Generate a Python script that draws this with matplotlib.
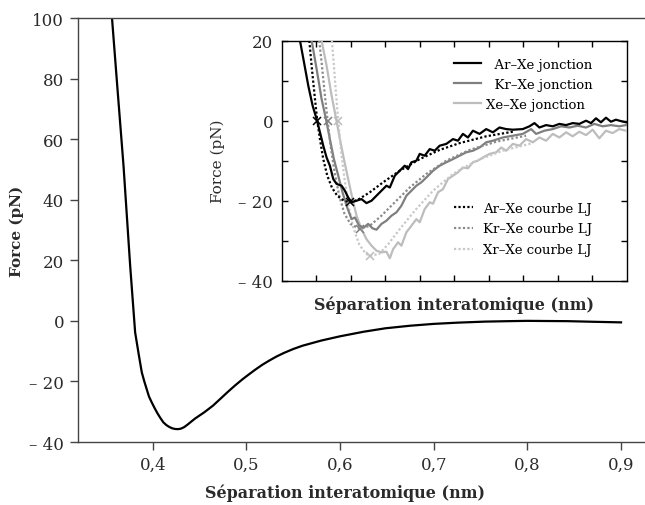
import matplotlib
matplotlib.use("Agg")
import matplotlib.pyplot as plt

plt.rcParams.update({
    "font.family": ["DejaVu Serif"],
    "font.size": 12,
})

# ---- main curve (force vs separation) ----
main_x = [0.3565, 0.362, 0.3688, 0.3759, 0.3812, 0.3850, 0.3883, 0.3910, 0.3940,
          0.3960, 0.3989, 0.4020, 0.4050, 0.4080, 0.4113, 0.4145, 0.4175, 0.4205,
          0.4237, 0.4270, 0.4300, 0.4335, 0.4370, 0.4410, 0.4450, 0.4550, 0.4643,
          0.4720, 0.4800, 0.4880, 0.4962, 0.5030, 0.5100, 0.5170, 0.5245, 0.5320,
          0.5400, 0.5500, 0.5600, 0.5800, 0.6000, 0.6250, 0.6485, 0.6750, 0.7000,
          0.7250, 0.7546, 0.7800, 0.8000, 0.8200, 0.8430, 0.8700, 0.9000]
main_y = [100, 78, 51.2, 18.2, -3.8, -11, -17, -20, -23,
          -25, -26.9, -28.8, -30.5, -32.0, -33.5, -34.4, -35.0, -35.45,
          -35.7, -35.75, -35.6, -35.1, -34.3, -33.3, -32.3, -30.2, -28,
          -25.8, -23.5, -21.3, -19.2, -17.6, -16, -14.5, -13.1, -11.8,
          -10.6, -9.3, -8.2, -6.5, -5.1, -3.6, -2.45, -1.6, -1.0,
          -0.6, -0.25, -0.1, 0, -0.05, -0.1, -0.3, -0.5]
main_xticks = [0.4, 0.5, 0.6, 0.7, 0.8, 0.9]
main_xticklabels = ["0,4", "0,5", "0,6", "0,7", "0,8", "0,9"]
main_yticks = [-40, -20, 0, 20, 40, 60, 80, 100]
main_yticklabels = ["\u2013 40", "\u2013 20", "0", "20", "40", "60", "80", "100"]

# ---- inset: simulated junctions ----
arxe_x = [0.3765, 0.3823, 0.3885, 0.3948, 0.4006, 0.4054, 0.4102, 0.4150, 0.4198,
          0.4247, 0.4295, 0.4367, 0.4415, 0.4463, 0.4512, 0.4584, 0.4656, 0.4728,
          0.4801, 0.4873, 0.4945, 0.5017, 0.5066, 0.5138, 0.5210, 0.5282, 0.5330,
          0.5379, 0.5451, 0.5499, 0.5571, 0.5644, 0.5716, 0.5788, 0.5884, 0.5981,
          0.6053, 0.6125, 0.6197, 0.6270, 0.6366, 0.6462, 0.6559, 0.6655, 0.6751,
          0.6848, 0.6992, 0.7089, 0.7161, 0.7233, 0.7329, 0.7426, 0.7522, 0.7619,
          0.7715, 0.7811, 0.7908, 0.7980, 0.8052, 0.8124, 0.8197, 0.8269, 0.8341,
          0.8413, 0.8486]
arxe_y = [20, 14.6, 8.75, 3.75, 0.4, -2.9, -6.25, -9.2, -11.25,
          -14.6, -15.8, -16.25, -17.5, -19.2, -20.4, -20, -19.6, -20.6,
          -20, -18.75, -17.5, -16.25, -16.7, -13.75, -12.5, -11.25, -12.1,
          -10.4, -10, -8.3, -8.75, -7.1, -7.5, -6.25, -5.8, -4.6,
          -5, -3.3, -4.2, -2.5, -3.3, -2.1, -2.9, -1.7, -2.1,
          -2.25, -2.1, -1.4, -0.6, -1.7, -1.1, -1.4, -0.8, -1.1,
          -0.6, -0.8, 0, -0.6, 0.6, -0.4, 0.75, -0.25, 0.25,
          -0.1, -0.4]

krxe_x = [0.3934, 0.4006, 0.4078, 0.4141, 0.4198, 0.4256, 0.4319, 0.4381, 0.4439,
          0.4512, 0.4560, 0.4622, 0.4690, 0.4752, 0.4815, 0.4873, 0.4945, 0.5017,
          0.5090, 0.5162, 0.5234, 0.5306, 0.5379, 0.5451, 0.5523, 0.5595, 0.5692,
          0.5788, 0.5884, 0.5981, 0.6077, 0.6173, 0.6270, 0.6366, 0.6462, 0.6559,
          0.6703, 0.6848, 0.6992, 0.7113, 0.7185, 0.7305, 0.7426, 0.7546, 0.7667,
          0.7787, 0.7908, 0.8028, 0.8148, 0.8269, 0.8389, 0.8486]
krxe_y = [20, 12.9, 5.4, 0.4, -4.6, -9.6, -13.75, -17.9, -21.25,
          -24.6, -24.2, -26.25, -26.7, -25.8, -26.9, -27.25, -25.8, -25,
          -23.75, -22.9, -21.25, -18.75, -17.5, -16.25, -15.4, -14.2, -12.5,
          -11.25, -10.4, -9.6, -8.75, -7.9, -7.5, -6.7, -5.4, -5,
          -4.2, -3.75, -3.3, -2.1, -3.3, -2.5, -2.1, -1.4, -1.7,
          -1.25, -1.7, -0.8, -1.4, -1.1, -1.4, -1.1]

xexe_x = [0.4078, 0.4150, 0.4223, 0.4285, 0.4343, 0.4401, 0.4463, 0.4526, 0.4584,
          0.4656, 0.4728, 0.4801, 0.4873, 0.4945, 0.5017, 0.5066, 0.5114, 0.5186,
          0.5234, 0.5306, 0.5379, 0.5451, 0.5499, 0.5571, 0.5644, 0.5692, 0.5764,
          0.5836, 0.5908, 0.5981, 0.6053, 0.6125, 0.6197, 0.6270, 0.6342, 0.6414,
          0.6511, 0.6607, 0.6679, 0.6751, 0.6848, 0.6944, 0.7040, 0.7137, 0.7233,
          0.7329, 0.7426, 0.7522, 0.7619, 0.7715, 0.7811, 0.7908, 0.8004, 0.8100,
          0.8197, 0.8293, 0.8389, 0.8486]
xexe_y = [20, 13.75, 6.25, 0.8, -4.6, -9.6, -14.6, -19.6, -23.75,
          -27.1, -29.6, -31.25, -32.5, -32.9, -32.75, -34.4, -32.1, -30.4,
          -31.25, -27.9, -26.25, -24.6, -25.4, -22.1, -20.4, -20.75, -17.9,
          -17.1, -14.6, -13.75, -12.9, -11.7, -11.9, -10.4, -10, -9.2,
          -8.3, -7.9, -6.7, -7.5, -5.8, -6.25, -4.6, -5.4, -4.2,
          -5, -3.3, -4.2, -2.9, -3.9, -2.75, -3.6, -2.25, -4.4,
          -2.5, -3.1, -2.1, -2.5]

# ---- inset: Lennard-Jones curves ----
lj_arxe_x = [0.3900, 0.3938, 0.3977, 0.4015, 0.4054, 0.4102, 0.4160, 0.4227, 0.4304,
             0.4401, 0.4490, 0.4600, 0.4776, 0.4969, 0.5210, 0.5499, 0.5788, 0.6077,
             0.6462, 0.6848]
lj_arxe_y = [20, 12.9, 6.25, 0.0, -4.6, -9.6, -13.75, -16.7, -18.75,
             -20, -20.4, -19.8, -17.9, -15.4, -12.5, -9.6, -7.3, -5.6,
             -3.9, -2.75]

lj_krxe_x = [0.4044, 0.4083, 0.4121, 0.4165, 0.4208, 0.4266, 0.4333, 0.4410, 0.4497,
             0.4632, 0.4776, 0.4945, 0.5138, 0.5355, 0.5595, 0.5884, 0.6222, 0.6607,
             0.7040]
lj_krxe_y = [20, 13.75, 7.1, 0.0, -6.25, -12.9, -18.75, -23.3, -25.8,
             -27.1, -26.25, -23.75, -20.4, -16.7, -13.3, -10, -7.3, -5.25,
             -3.75]

lj_xexe_x = [0.4227, 0.4256, 0.4285, 0.4319, 0.4362, 0.4410, 0.4468, 0.4536, 0.4622,
             0.4719, 0.4786, 0.4911, 0.5041, 0.5210, 0.5427, 0.5692, 0.5981, 0.6318,
             0.6703, 0.7137]
lj_xexe_y = [20, 13.75, 7.1, 0.0, -7.9, -14.6, -21.25, -26.7, -30.9,
             -33.3, -33.75, -33.3, -30.9, -27.1, -22.5, -17.5, -13.3, -10,
             -7.5, -5.6]

# zero crossing and minimum of each LJ curve
mark_x = [[0.4015, 0.4490], [0.4165, 0.4632], [0.4319, 0.4786]]
mark_y = [[0, -20.4], [0, -27.1], [0, -33.75]]

c_dark, c_mid, c_light = "#000000", "#7f7f7f", "#bdbdbd"
c_mid_dot, c_light_dot = "#8a8a8a", "#c8c8c8"
txt = "#2a2a2a"

fig = plt.figure(figsize=(6.45, 5.06), dpi=100)

# main axes
ax = fig.add_axes([78 / 645, 1 - 443 / 506, 567 / 645, 424 / 506])
ax.plot(main_x, main_y, color="black", lw=1.6, solid_joinstyle="round")
ax.set_xlim(0.3202, 0.9256)
ax.set_ylim(-40, 100)
ax.set_xticks(main_xticks)
ax.set_xticklabels(main_xticklabels)
ax.set_yticks(main_yticks)
ax.set_yticklabels(main_yticklabels)
ax.spines["right"].set_visible(False)
for s in ["left", "bottom", "top"]:
    ax.spines[s].set_color("#444444")
    ax.spines[s].set_linewidth(1.0)
ax.tick_params(direction="out", length=5.5, width=1.0, color="#444444",
               labelcolor=txt, labelsize=12, pad=4.5)
ax.set_xlabel("Séparation interatomique (nm)", fontsize=11.5, fontweight="bold", color=txt)
ax.set_ylabel("Force (pN)", fontsize=11, fontweight="bold", color=txt)
ax.xaxis.set_label_coords(0.471, -0.098)
ax.yaxis.set_label_coords(-0.095, 0.5)

# inset
ins = fig.add_axes([281.7 / 645, 1 - 281.7 / 506, 345.2 / 645, 240 / 506])
l1, = ins.plot(arxe_x, arxe_y, color=c_dark, lw=1.6, zorder=5, label="  Ar\u2013Xe jonction")
l2, = ins.plot(krxe_x, krxe_y, color=c_mid, lw=1.6, zorder=4, label="  Kr\u2013Xe jonction")
l3, = ins.plot(xexe_x, xexe_y, color=c_light, lw=1.6, zorder=3, label="Xe\u2013Xe jonction")
d1, = ins.plot(lj_arxe_x, lj_arxe_y, color=c_dark, lw=1.6, ls=(0, (1, 1)), zorder=6,
               label="Ar\u2013Xe courbe LJ")
d2, = ins.plot(lj_krxe_x, lj_krxe_y, color=c_mid_dot, lw=1.6, ls=(0, (1, 1)), zorder=4.5,
               label="Kr\u2013Xe courbe LJ")
d3, = ins.plot(lj_xexe_x, lj_xexe_y, color=c_light_dot, lw=1.6, ls=(0, (1, 1)), zorder=3.5,
               label="Xr\u2013Xe courbe LJ")
for mx, my, c in zip(mark_x, mark_y, [c_dark, c_mid, c_light]):
    ins.plot(mx, my, ls="none", marker="x", ms=6, mew=1.1, color=c, zorder=7)

ins.set_xlim(0.35, 0.85)
ins.set_ylim(-40, 20)
ins.set_xticks([0.40, 0.45, 0.50, 0.55, 0.60, 0.65, 0.70, 0.75, 0.80])
ins.set_xticklabels([])
ins.set_yticks([-40, -30, -20, -10, 0, 10, 20])
ins.set_yticklabels(["\u2013 40", "", "\u2013 20", "", "0", "", "20"])
for s in ins.spines.values():
    s.set_color("black")
    s.set_linewidth(1.0)
ins.tick_params(direction="in", length=4.5, width=1.0, top=True, right=True,
                labelsize=12, labelcolor=txt, pad=6)
ins.set_xlabel("Séparation interatomique (nm)", fontsize=11.5, fontweight="bold", color=txt)
ins.set_ylabel("Force (pN)", fontsize=11, color=txt)
ins.xaxis.set_label_coords(0.5, -0.06)
ins.yaxis.set_label_coords(-0.165, 0.5)

leg1 = ins.legend(handles=[l1, l2, l3], loc="upper left", bbox_to_anchor=(0.5, 0.93),
                  frameon=False, fontsize=9.5, borderpad=0, borderaxespad=0,
                  handlelength=2.0, handletextpad=0.4, labelspacing=0.55)
ins.add_artist(leg1)
ins.legend(handles=[d1, d2, d3], loc="upper left", bbox_to_anchor=(0.5, 0.33),
           frameon=False, fontsize=9.5, borderpad=0, borderaxespad=0,
           handlelength=1.4, handletextpad=0.8, labelspacing=0.6)

fig.savefig("out.png", dpi=100)
